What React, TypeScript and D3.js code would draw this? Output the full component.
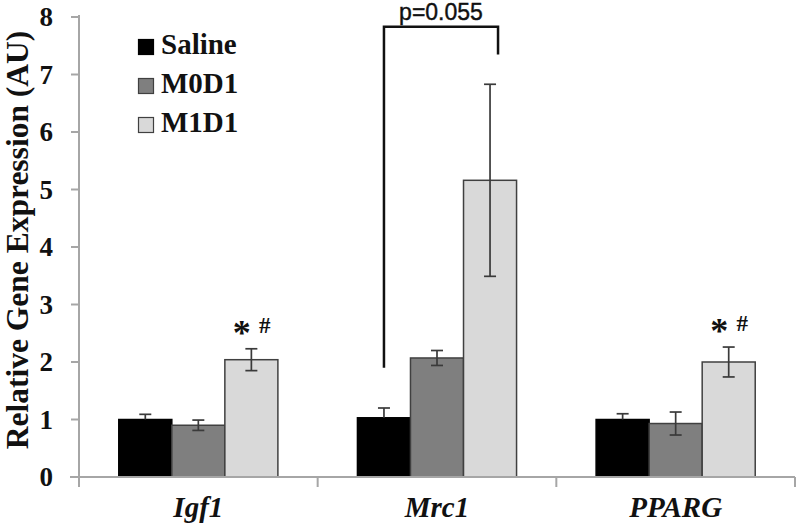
import React from "react";
import * as d3 from "d3";

const genes = ["Igf1", "Mrc1", "PPARG"];
const groups = ["Saline", "M0D1", "M1D1"];
const groupColors = ["#000000", "#7f7f7f", "#d9d9d9"];
const means = [
  [1.0, 0.9, 2.04],
  [1.03, 2.07, 5.16],
  [1.0, 0.93, 2.0],
];
const errors = [
  [0.09, 0.09, 0.19],
  [0.17, 0.13, 1.67],
  [0.1, 0.2, 0.26],
];
const yTicks = [0, 1, 2, 3, 4, 5, 6, 7, 8];
const yLabel = "Relative Gene Expression (AU)";
// significance marks: gene index, group index
const sigMarks = [
  { gene: 0, group: 2 },
  { gene: 2, group: 2 },
];
// bracket: gene Mrc1, from Saline to M1D1, p text
const bracket = { gene: 1, from: 0, to: 2, top: 7.83, leftEnd: 1.9, rightEnd: 7.35, label: "p=0.055" };

const W = 796;
const H = 525;
const X0 = 79;
const X1 = 795;
const Y0 = 477;
const Y8 = 17;

export default function App() {
  const x = d3.scaleBand<string>().domain(genes).range([X0, X1]).padding(0);
  const xi = d3
    .scaleBand<string>()
    .domain(groups)
    .range([0, x.bandwidth()])
    .paddingInner(0)
    .paddingOuter(0.75);
  const y = d3.scaleLinear().domain([0, 8]).range([Y0, Y8]);
  const serif = "'Liberation Serif', 'Times New Roman', serif";
  const axisColor = "#a6a6a6";
  const errColor = "#3a3a3a";

  const barX = (gi: number, k: number) => (x(genes[gi]) as number) + (xi(groups[k]) as number);
  const barCx = (gi: number, k: number) => barX(gi, k) + xi.bandwidth() / 2;

  const boundaries = [X0, ...genes.map((g) => (x(g) as number) + x.bandwidth())];

  const bx1 = barCx(bracket.gene, bracket.from);
  const bx2 = barCx(bracket.gene, bracket.to) + 8;

  return (
    <svg
      width={W}
      height={H}
      style={{ position: "absolute", left: 0, top: 0, background: "#fff" }}
    >
      <rect x={0} y={0} width={W} height={H} fill="#fff" />
      {/* bars */}
      {genes.map((g, gi) =>
        groups.map((grp, k) => {
          const v = means[gi][k];
          return (
            <rect
              key={g + grp}
              x={barX(gi, k)}
              y={y(v)}
              width={xi.bandwidth()}
              height={Y0 - y(v)}
              fill={groupColors[k]}
              stroke={k === 0 ? "#000" : "#404040"}
              strokeWidth={1.5}
            />
          );
        })
      )}
      {/* error bars */}
      {genes.map((g, gi) =>
        groups.map((grp, k) => {
          const v = means[gi][k];
          const e = errors[gi][k];
          const cx = barCx(gi, k);
          const hi = y(v + e);
          const lo = k === 0 ? y(v) : y(v - e);
          return (
            <g key={"e" + g + grp} stroke={errColor} strokeWidth={1.7}>
              <line x1={cx} x2={cx} y1={hi} y2={lo} />
              <line x1={cx - 6} x2={cx + 6} y1={hi} y2={hi} />
              {k !== 0 && <line x1={cx - 6} x2={cx + 6} y1={lo} y2={lo} />}
            </g>
          );
        })
      )}
      {/* axes */}
      <line x1={X0} x2={X0} y1={Y8 - 2} y2={Y0 + 10} stroke={axisColor} strokeWidth={2} />
      <line x1={X0 - 9} x2={X1} y1={Y0} y2={Y0} stroke={axisColor} strokeWidth={2} />
      {yTicks.map((t) => (
        <g key={"t" + t}>
          <line x1={X0 - 8} x2={X0} y1={y(t)} y2={y(t)} stroke={axisColor} strokeWidth={2} />
          <text
            x={53}
            y={y(t)}
            dy="0.35em"
            textAnchor="end"
            fontFamily={serif}
            fontWeight="bold"
            fontSize={27}
            fill="#111"
          >
            {t}
          </text>
        </g>
      ))}
      {boundaries.slice(1).map((bx, i) => (
        <line key={"b" + i} x1={bx} x2={bx} y1={Y0} y2={Y0 + 10} stroke={axisColor} strokeWidth={2} />
      ))}
      {genes.map((g) => (
        <text
          key={"l" + g}
          x={(x(g) as number) + x.bandwidth() / 2}
          y={517}
          textAnchor="middle"
          fontFamily={serif}
          fontWeight="bold"
          fontStyle="italic"
          fontSize={29}
          fill="#111"
        >
          {g}
        </text>
      ))}
      <text
        transform={`translate(28, 240) rotate(-90)`}
        textAnchor="middle"
        fontFamily={serif}
        fontWeight="bold"
        fontSize={31.5}
        fill="#111"
      >
        {yLabel}
      </text>
      {/* legend */}
      {groups.map((grp, k) => (
        <g key={"lg" + grp} transform={`translate(138, ${39 + k * 39})`}>
          <rect
            x={0.5}
            y={0.5}
            width={15}
            height={15}
            fill={groupColors[k]}
            stroke={k === 0 ? "#000" : "#404040"}
            strokeWidth={1.2}
          />
          <text x={23} y={15} fontFamily={serif} fontWeight="bold" fontSize={29} fill="#111">
            {grp}
          </text>
        </g>
      ))}
      {/* significance marks */}
      {sigMarks.map((m, i) => {
        const cx = barCx(m.gene, m.group);
        const top = y(means[m.gene][m.group] + errors[m.gene][m.group]);
        return (
          <g key={"s" + i} fontFamily={serif} fontWeight="bold" fill="#111">
            <text x={cx - 9.5} y={top - 4} textAnchor="middle" fontSize={36}>
              *
            </text>
            <text x={cx + 13.5} y={top - 16} textAnchor="middle" fontSize={23}>
              #
            </text>
          </g>
        );
      })}
      {/* bracket */}
      <path
        d={`M${bx1},${y(bracket.leftEnd)} V${y(bracket.top)} H${bx2} V${y(bracket.rightEnd)}`}
        fill="none"
        stroke="#111"
        strokeWidth={2.5}
      />
      <text
        x={(bx1 + bx2) / 2}
        y={20}
        textAnchor="middle"
        fontFamily="'Liberation Sans', Arial, sans-serif"
        fontSize={23}
        fill="#111"
        stroke="#111"
        strokeWidth={0.4}
      >
        {bracket.label}
      </text>
    </svg>
  );
}
